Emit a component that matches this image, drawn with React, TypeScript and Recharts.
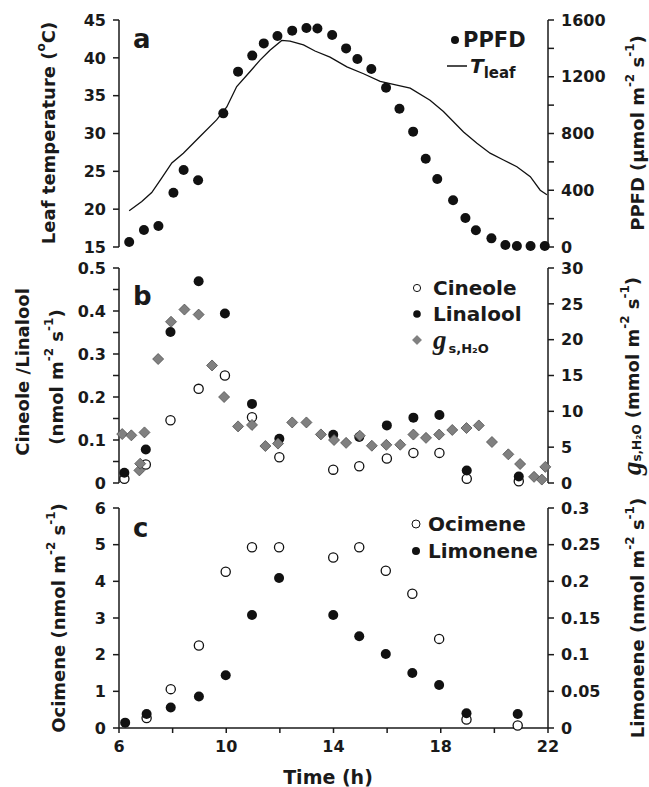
import React from "react";
import { ComposedChart, Line, Scatter, XAxis, YAxis, Legend } from "recharts";

// panel a
const ppfdTime = [6.38, 6.93, 7.47, 8.03, 8.41, 8.95, 9.89, 10.44, 10.97, 11.4, 11.91, 12.46, 12.99, 13.4, 13.95, 14.47, 14.89, 15.41, 15.96, 16.46, 16.97, 17.44, 17.87, 18.46, 18.92, 19.31, 19.89, 20.41, 20.84, 21.35, 21.88];
const ppfdVal = [35, 120, 148, 383, 543, 470, 942, 1236, 1349, 1435, 1487, 1525, 1543, 1540, 1494, 1400, 1325, 1254, 1123, 975, 813, 622, 479, 329, 204, 118, 61, 14, 7, 7, 7];
const tleafTime = [6.38, 6.85, 7.22, 7.59, 7.97, 8.4, 9.02, 9.64, 10.02, 10.39, 10.89, 11.26, 11.63, 12.07, 12.38, 12.88, 13.31, 13.87, 14.5, 15.12, 15.74, 16.36, 16.86, 17.6, 18.1, 18.85, 19.35, 19.84, 20.34, 20.84, 21.34, 21.71, 21.96];
const tleafVal = [19.8, 21.0, 22.2, 24.1, 26.1, 27.4, 29.6, 31.8, 33.5, 36.2, 38.2, 39.7, 41.0, 42.3, 42.2, 41.7, 40.9, 40.1, 38.8, 37.9, 36.9, 36.4, 36.0, 34.4, 32.9, 30.2, 28.7, 27.4, 26.5, 25.6, 24.3, 22.5, 21.9];

// panel b
const bTime = [6.2, 7.0, 7.92, 8.97, 9.95, 10.96, 11.98, 13.99, 14.96, 15.99, 16.98, 17.95, 18.97, 20.91];
const cineole = [0.01, 0.043, 0.146, 0.219, 0.25, 0.153, 0.06, 0.031, 0.039, 0.057, 0.07, 0.07, 0.01, 0.004];
const linalool = [0.024, 0.078, 0.351, 0.469, 0.394, 0.184, 0.103, 0.112, 0.107, 0.134, 0.152, 0.158, 0.029, 0.015];
const gsTime = [6.12, 6.46, 6.76, 6.79, 6.95, 7.46, 7.94, 8.44, 8.97, 9.47, 9.92, 10.44, 10.96, 11.46, 11.93, 12.46, 12.99, 13.53, 14.02, 14.47, 14.98, 15.43, 15.97, 16.49, 16.98, 17.45, 17.94, 18.43, 18.96, 19.42, 19.91, 20.52, 20.96, 21.48, 21.77, 21.9];
const gsVal = [6.83, 6.65, 1.76, 2.7, 7.06, 17.3, 22.5, 24.2, 23.5, 16.4, 12.0, 7.9, 8.1, 5.16, 5.5, 8.45, 8.45, 6.78, 6.0, 5.6, 6.6, 5.2, 5.32, 5.34, 6.76, 6.3, 6.76, 7.4, 7.67, 8.03, 5.72, 4.0, 2.65, 0.86, 0.48, 2.25];

// panel c
const ocimeneTime = [7.03, 7.93, 8.98, 9.98, 10.96, 11.97, 13.99, 14.96, 15.95, 16.94, 17.94, 18.96, 20.87];
const ocimene = [0.27, 1.06, 2.25, 4.26, 4.93, 4.93, 4.65, 4.93, 4.29, 3.66, 2.43, 0.23, 0.07];
const limoneneTime = [6.23, 7.03, 7.93, 8.98, 9.98, 10.96, 11.97, 13.99, 14.96, 15.95, 16.94, 17.94, 18.96, 20.87];
const limonene = [0.0073, 0.019, 0.028, 0.043, 0.072, 0.154, 0.2045, 0.154, 0.125, 0.101, 0.075, 0.0586, 0.02, 0.019];

const hourTicks = [6, 8, 10, 12, 14, 16, 18, 20, 22];
const tempTicks = [15, 20, 25, 30, 35, 40, 45];
const ppfdTicks = [0, 200, 400, 600, 800, 1000, 1200, 1400, 1600];
const cinTicks = [0, 0.05, 0.1, 0.15, 0.2, 0.25, 0.3, 0.35, 0.4, 0.45, 0.5];
const gsTicks = [0, 5, 10, 15, 20, 25, 30];
const ociTicks = [0, 1, 2, 3, 4, 5, 6];
const limTicks = [0, 0.05, 0.1, 0.15, 0.2, 0.25, 0.3];

const pairs = (xs: number[], ys: number[]) => xs.map((x, i) => ({ x, y: ys[i] }));

const ink = "#1a1a1a";
const font = "DejaVu Sans";
const tickFont = { fill: ink, fontSize: 16, fontWeight: 700, fontFamily: font };
const axisLine = { stroke: ink, strokeWidth: 1.5 };
const tickLine = { stroke: ink, strokeWidth: 1.5 };

const Dot = (p: any) => <circle cx={p.cx} cy={p.cy} r={5} fill="#111" />;
const Ring = (p: any) => <circle cx={p.cx} cy={p.cy} r={4.6} fill="#fff" stroke="#111" strokeWidth={1.3} />;
const Diamond = (p: any) => (
  <polygon
    points={`${p.cx},${p.cy - 5.5} ${p.cx + 5.5},${p.cy} ${p.cx},${p.cy + 5.5} ${p.cx - 5.5},${p.cy}`}
    fill="#808080"
    stroke="#505050"
    strokeWidth={0.8}
  />
);

function Rot({ x, y, size = 18, children }: any) {
  return (
    <text x={x} y={y} transform={`rotate(-90 ${x} ${y})`} textAnchor="middle" dominantBaseline="central"
      fontFamily={font} fontWeight={700} fontSize={size} fill={ink}>
      {children}
    </text>
  );
}

const Units = ({ pre }: { pre: string }) => (
  <>
    <tspan>{pre} m</tspan>
    <tspan dy={-7} fontSize={12}>-2</tspan>
    <tspan dy={7}> s</tspan>
    <tspan dy={-7} fontSize={12}>-1</tspan>
    <tspan dy={7}>)</tspan>
  </>
);

function LegendBox({ rows, rowH }: { rows: { sym: React.ReactNode; w: number; text: React.ReactNode }[]; rowH: number }) {
  return (
    <div style={{ fontFamily: font, fontWeight: 700, fontSize: 20, color: ink }}>
      {rows.map((r, i) => (
        <div key={i} style={{ display: "flex", alignItems: "center", height: rowH, whiteSpace: "nowrap" }}>
          <div style={{ width: r.w, display: "flex", alignItems: "center" }}>{r.sym}</div>
          <div>{r.text}</div>
        </div>
      ))}
    </div>
  );
}

const symSvg = (w: number, el: React.ReactNode) => (
  <svg width={w} height={14} style={{ display: "block" }}>{el}</svg>
);

const hideAxis = { tick: false as const, tickLine: false, axisLine, height: 0 };

function PanelA() {
  return (
    <ComposedChart width={649} height={262} margin={{ top: 20, right: 0, bottom: 15, left: 0 }}>
      <XAxis dataKey="x" type="number" domain={[6, 22]} {...hideAxis} />
      <XAxis xAxisId="top" orientation="top" type="number" domain={[6, 22]} {...hideAxis} />
      <YAxis yAxisId="L" domain={[15, 45]} ticks={tempTicks} interval={0} width={119} tick={tickFont}
        tickSize={6} tickMargin={7} axisLine={axisLine} tickLine={tickLine}
        label={{ content: () => <Rot x={48} y={133}>Leaf temperature (<tspan dy={-7} fontSize={12}>o</tspan><tspan dy={7}>C)</tspan></Rot> }} />
      <YAxis yAxisId="R" orientation="right" domain={[0, 1600]} ticks={ppfdTicks} interval={0} width={101}
        tickFormatter={(v: number) => (v % 400 === 0 ? String(v) : "")} tick={tickFont}
        tickSize={6} tickMargin={7} axisLine={axisLine} tickLine={tickLine}
        label={{ content: () => <Rot x={637} y={133}><Units pre="PPFD (µmol" /></Rot> }} />
      <Line yAxisId="L" data={pairs(tleafTime, tleafVal)} dataKey="y" type="linear" stroke="#111"
        strokeWidth={1.3} dot={false} isAnimationActive={false} name="Tleaf" />
      <Scatter yAxisId="R" data={pairs(ppfdTime, ppfdVal)} dataKey="y" shape={Dot} isAnimationActive={false} name="PPFD" />
      <Legend layout="vertical" align="center" verticalAlign="middle"
        wrapperStyle={{ left: 447, top: 27, width: 130, height: 52 }}
        content={() => (
          <LegendBox rowH={26} rows={[
            { w: 16, sym: symSvg(16, <circle cx={8} cy={7} r={4} fill="#111" />), text: <span style={{ fontSize: 21 }}>PPFD</span> },
            { w: 23, sym: symSvg(23, <line x1={0} x2={20} y1={7} y2={7} stroke="#111" strokeWidth={1.5} />),
              text: <span><i>T</i><span style={{ fontSize: 15, position: "relative", top: 5 }}>leaf</span></span> },
          ]} />
        )} />
    </ComposedChart>
  );
}

function PanelB() {
  return (
    <ComposedChart width={649} height={252} margin={{ top: 18, right: 0, bottom: 19, left: 0 }}>
      <XAxis dataKey="x" type="number" domain={[6, 22]} {...hideAxis} />
      <XAxis xAxisId="top" orientation="top" type="number" domain={[6, 22]} {...hideAxis} />
      <YAxis yAxisId="L" domain={[0, 0.5]} ticks={cinTicks} interval={0} width={119}
        tickFormatter={(v: number) => (Math.round(v * 100) % 10 === 0 ? String(v) : "")} tick={tickFont}
        tickSize={6} tickMargin={7} axisLine={axisLine} tickLine={tickLine}
        label={{ content: () => (
          <g>
            <Rot x={22} y={122}>Cineole /Linalool</Rot>
            <Rot x={56} y={127}><Units pre="(nmol" /></Rot>
          </g>
        ) }} />
      <YAxis yAxisId="R" orientation="right" domain={[0, 30]} ticks={gsTicks} interval={0} width={101} tick={tickFont}
        tickSize={6} tickMargin={7} axisLine={axisLine} tickLine={tickLine}
        label={{ content: () => (
          <Rot x={632} y={126}>
            <tspan fontFamily="Liberation Serif" fontStyle="italic" fontSize={27}>g</tspan>
            <tspan fontSize={12} dy={5}>s,H₂O</tspan>
            <tspan dy={-5}> </tspan>
            <Units pre="(mmol" />
          </Rot>
        ) }} />
      <Scatter yAxisId="L" data={pairs(bTime, cineole)} dataKey="y" shape={Ring} isAnimationActive={false} name="Cineole" />
      <Scatter yAxisId="L" data={pairs(bTime, linalool)} dataKey="y" shape={Dot} isAnimationActive={false} name="Linalool" />
      <Scatter yAxisId="R" data={pairs(gsTime, gsVal)} dataKey="y" shape={Diamond} isAnimationActive={false} name="gs" />
      <Legend layout="vertical" align="center" verticalAlign="middle"
        wrapperStyle={{ left: 411, top: 25, width: 130, height: 78 }}
        content={() => (
          <LegendBox rowH={26} rows={[
            { w: 22, sym: symSvg(12, <circle cx={6} cy={7} r={3.6} fill="#fff" stroke="#111" strokeWidth={1} />), text: "Cineole" },
            { w: 22, sym: symSvg(12, <circle cx={6} cy={7} r={3.8} fill="#111" />), text: "Linalool" },
            { w: 22, sym: symSvg(12, <polygon points="6,2.5 10.5,7 6,11.5 1.5,7" fill="#808080" stroke="#606060" strokeWidth={0.6} />),
              text: <span><span style={{ fontFamily: "Liberation Serif", fontStyle: "italic", fontSize: 27 }}>g</span><span style={{ fontSize: 13, position: "relative", top: 4, marginLeft: 2 }}>s,H₂O</span></span> },
          ]} />
        )} />
    </ComposedChart>
  );
}

function PanelC() {
  return (
    <ComposedChart width={649} height={297} margin={{ top: 18, right: 0, bottom: 0, left: 0 }}>
      <XAxis dataKey="x" type="number" domain={[6, 22]} ticks={hourTicks} interval={0} height={59}
        tickFormatter={(v: number) => (v % 4 === 2 ? String(v) : "")} tick={tickFont}
        tickSize={5} tickMargin={8} axisLine={axisLine} tickLine={tickLine}
        label={{ content: () => (
          <text x={328} y={287} textAnchor="middle" dominantBaseline="central" fontFamily={font}
            fontWeight={700} fontSize={19} fill={ink}>Time (h)</text>
        ) }} />
      <XAxis xAxisId="top" orientation="top" type="number" domain={[6, 22]} {...hideAxis} />
      <YAxis yAxisId="L" domain={[0, 6]} ticks={ociTicks} interval={0} width={119} tick={tickFont}
        tickSize={6} tickMargin={7} axisLine={axisLine} tickLine={tickLine}
        label={{ content: () => <Rot x={58} y={128}><Units pre="Ocimene (nmol" /></Rot> }} />
      <YAxis yAxisId="R" orientation="right" domain={[0, 0.3]} ticks={limTicks} interval={0} width={101} tick={tickFont}
        tickSize={6} tickMargin={7} axisLine={axisLine} tickLine={tickLine}
        label={{ content: () => <Rot x={637} y={128}><Units pre="Limonene (nmol" /></Rot> }} />
      <Scatter yAxisId="L" data={pairs(ocimeneTime, ocimene)} dataKey="y" shape={Ring} isAnimationActive={false} name="Ocimene" />
      <Scatter yAxisId="R" data={pairs(limoneneTime, limonene)} dataKey="y" shape={Dot} isAnimationActive={false} name="Limonene" />
      <Legend layout="vertical" align="center" verticalAlign="middle"
        wrapperStyle={{ left: 410, top: 20, width: 140, height: 54 }}
        content={() => (
          <LegendBox rowH={27} rows={[
            { w: 18, sym: symSvg(12, <circle cx={6} cy={7} r={4} fill="#fff" stroke="#111" strokeWidth={1} />), text: "Ocimene" },
            { w: 18, sym: symSvg(12, <circle cx={6} cy={7} r={4} fill="#111" />), text: "Limonene" },
          ]} />
        )} />
    </ComposedChart>
  );
}

const letter = (t: string, top: number) => (
  <div style={{ position: "absolute", left: 133, top, fontFamily: font, fontWeight: 700, fontSize: 26, lineHeight: "26px", color: ink }}>{t}</div>
);

export default function App() {
  return (
    <div style={{ position: "absolute", left: 0, top: 0, width: 649, height: 787, background: "#fff", fontFamily: font }}>
      <div style={{ position: "absolute", left: 0, top: 0 }}><PanelA /></div>
      <div style={{ position: "absolute", left: 0, top: 250 }}><PanelB /></div>
      <div style={{ position: "absolute", left: 0, top: 490 }}><PanelC /></div>
      {letter("a", 26)}
      {letter("b", 283)}
      {letter("c", 515)}
    </div>
  );
}
